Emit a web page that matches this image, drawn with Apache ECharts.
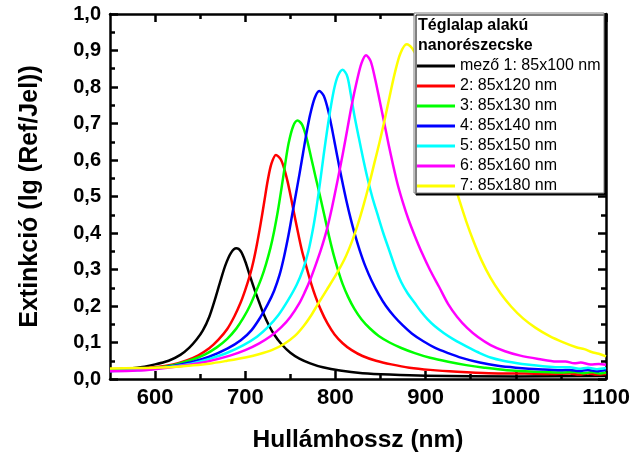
<!DOCTYPE html>
<html>
<head>
<meta charset="utf-8">
<script src="https://cdn.jsdelivr.net/npm/echarts@6.0.0/dist/echarts.min.js"></script>
<style>
  html, body { margin: 0; padding: 0; background: #fff; }
  #chart { width: 633px; height: 460px; }
</style>
</head>
<body>
<div id="chart"></div>
<script>
// Extinction spectra of rectangular nanoparticles: [wavelength (nm), extinction]
const s85x100 = [[550,0.027],[580,0.031],[600,0.040],[615,0.050],[628,0.066],[638,0.086],[646,0.108],[653,0.133],[660,0.170],[666,0.215],[672,0.265],[678,0.312],[684,0.345],[690,0.358],[695,0.350],[700,0.322],[705,0.284],[710,0.247],[715,0.213],[720,0.180],[726,0.148],[732,0.122],[740,0.096],[750,0.072],[760,0.056],[772,0.043],[786,0.032],[805,0.023],[830,0.016],[860,0.012],[900,0.009],[1000,0.007],[1100,0.008]];
const s85x120 = [[550,0.024],[580,0.028],[600,0.032],[620,0.040],[635,0.051],[648,0.065],[660,0.084],[670,0.107],[680,0.137],[688,0.172],[695,0.210],[700,0.244],[705,0.283],[709,0.322],[713,0.370],[717,0.425],[721,0.485],[725,0.545],[729,0.590],[734,0.614],[739,0.603],[743,0.578],[747,0.540],[751,0.493],[755,0.443],[759,0.395],[763,0.350],[768,0.305],[773,0.262],[778,0.225],[784,0.188],[791,0.153],[799,0.122],[808,0.098],[818,0.079],[830,0.063],[845,0.050],[862,0.040],[882,0.031],[905,0.025],[935,0.020],[970,0.016],[1010,0.015],[1040,0.014],[1060,0.015],[1070,0.012],[1080,0.015],[1090,0.012],[1100,0.014]];
const s85x130 = [[550,0.023],[580,0.026],[600,0.030],[620,0.038],[640,0.052],[655,0.067],[668,0.086],[680,0.110],[690,0.138],[698,0.168],[705,0.200],[712,0.240],[718,0.277],[723,0.315],[728,0.360],[732,0.405],[736,0.458],[740,0.520],[744,0.585],[748,0.645],[753,0.692],[758,0.708],[763,0.697],[768,0.660],[773,0.607],[778,0.553],[783,0.500],[788,0.445],[793,0.390],[798,0.340],[803,0.297],[808,0.260],[814,0.225],[821,0.192],[829,0.163],[838,0.139],[848,0.118],[860,0.100],[873,0.085],[888,0.071],[905,0.058],[925,0.047],[945,0.038],[965,0.031],[990,0.024],[1020,0.020],[1050,0.018],[1065,0.019],[1075,0.016],[1085,0.019],[1093,0.015],[1100,0.018]];
const s85x140 = [[550,0.022],[580,0.025],[600,0.029],[620,0.036],[640,0.046],[660,0.061],[680,0.083],[695,0.106],[707,0.134],[717,0.170],[725,0.205],[732,0.242],[738,0.285],[743,0.335],[748,0.395],[752,0.450],[756,0.505],[760,0.560],[764,0.618],[768,0.675],[772,0.725],[777,0.770],[782,0.789],[787,0.776],[792,0.735],[797,0.675],[802,0.610],[807,0.548],[812,0.490],[817,0.438],[822,0.392],[827,0.352],[833,0.310],[840,0.270],[848,0.232],[856,0.200],[865,0.172],[875,0.146],[885,0.124],[897,0.104],[910,0.086],[925,0.071],[940,0.058],[960,0.045],[980,0.036],[1000,0.031],[1030,0.026],[1050,0.024],[1060,0.025],[1070,0.022],[1080,0.025],[1090,0.021],[1100,0.025]];
const s85x150 = [[550,0.022],[580,0.024],[600,0.028],[620,0.034],[640,0.042],[660,0.055],[680,0.072],[698,0.093],[713,0.116],[725,0.142],[737,0.176],[748,0.218],[757,0.258],[764,0.300],[770,0.350],[775,0.410],[779,0.470],[783,0.540],[787,0.615],[791,0.685],[795,0.748],[799,0.800],[803,0.832],[808,0.847],[813,0.830],[817,0.780],[821,0.722],[826,0.660],[831,0.600],[836,0.545],[841,0.497],[847,0.448],[853,0.400],[860,0.350],[867,0.300],[873,0.265],[880,0.235],[888,0.208],[895,0.184],[902,0.164],[910,0.145],[920,0.126],[930,0.110],[940,0.096],[950,0.083],[960,0.071],[972,0.059],[986,0.050],[1000,0.044],[1015,0.039],[1030,0.035],[1046,0.032],[1060,0.032],[1070,0.028],[1080,0.031],[1090,0.027],[1100,0.030]];
const s85x160 = [[550,0.021],[580,0.023],[600,0.027],[620,0.033],[640,0.040],[660,0.049],[683,0.064],[700,0.079],[715,0.097],[728,0.117],[740,0.142],[750,0.170],[760,0.208],[766,0.238],[772,0.272],[778,0.312],[784,0.355],[790,0.405],[796,0.468],[802,0.540],[808,0.615],[813,0.682],[818,0.750],[824,0.819],[829,0.866],[834,0.887],[839,0.871],[844,0.822],[849,0.763],[854,0.703],[859,0.642],[864,0.585],[869,0.533],[875,0.482],[881,0.437],[888,0.392],[896,0.345],[905,0.298],[915,0.252],[925,0.205],[935,0.170],[946,0.140],[958,0.115],[972,0.093],[988,0.076],[1005,0.064],[1025,0.055],[1045,0.048],[1055,0.048],[1065,0.043],[1072,0.045],[1083,0.040],[1092,0.041],[1100,0.039]];
const s85x180 = [[550,0.029],[580,0.030],[600,0.031],[620,0.033],[640,0.037],[660,0.042],[680,0.050],[700,0.059],[715,0.068],[730,0.080],[743,0.096],[755,0.118],[765,0.146],[773,0.174],[780,0.203],[790,0.243],[800,0.283],[810,0.328],[818,0.375],[825,0.425],[831,0.475],[837,0.530],[843,0.590],[849,0.650],[855,0.715],[861,0.785],[866,0.840],[872,0.892],[879,0.917],[885,0.906],[891,0.878],[897,0.835],[903,0.785],[910,0.720],[917,0.655],[924,0.595],[931,0.540],[938,0.485],[945,0.432],[953,0.378],[962,0.325],[972,0.277],[983,0.235],[995,0.198],[1008,0.166],[1022,0.140],[1037,0.118],[1052,0.101],[1067,0.087],[1076,0.082],[1084,0.074],[1092,0.069],[1100,0.062]];

const seriesNames = ['mező 1: 85x100 nm', '2: 85x120 nm', '3: 85x130 nm', '4: 85x140 nm', '5: 85x150 nm', '6: 85x160 nm', '7: 85x180 nm'];
const seriesData = [s85x100, s85x120, s85x130, s85x140, s85x150, s85x160, s85x180];
const seriesColors = ['#000000', '#ff0000', '#00ff00', '#0000ff', '#00ffff', '#ff00ff', '#ffff00'];

// Axis ticks
const xMajorTicks = [600, 700, 800, 900, 1000, 1100];
const xMinorTicks = [650, 750, 850, 950, 1050];
const legendTitle = ['Téglalap alakú', 'nanorészecske'];

const FONT = '"Liberation Sans", Arial, sans-serif';
const AXIS_W = 2.5;

const chart = echarts.init(document.getElementById('chart'), null, { renderer: 'canvas' });

function xAxisDef(position, ticks, len, withLabels, showLine) {
  return {
    type: 'value', position: position, min: 550, max: 1100,
    axisLine: { show: showLine, onZero: false, lineStyle: { color: '#000', width: AXIS_W } },
    axisTick: { show: true, inside: true, length: len, customValues: ticks, lineStyle: { color: '#000', width: AXIS_W } },
    axisLabel: withLabels ? {
      show: true, customValues: ticks, margin: 8,
      fontFamily: FONT, fontWeight: 'bold', fontSize: 22, color: '#000',
      formatter: v => String(v)
    } : { show: false },
    splitLine: { show: false }
  };
}

const xAxes = [
  Object.assign(xAxisDef('bottom', xMajorTicks, 8, true, true), {
    name: 'Hullámhossz (nm)', nameLocation: 'middle', nameGap: 49,
    nameTextStyle: { fontFamily: FONT, fontWeight: 'bold', fontSize: 24.5, color: '#000' }
  }),
  xAxisDef('bottom', xMinorTicks, 5, false, false),
  xAxisDef('top', xMajorTicks, 8, false, true),
  xAxisDef('top', xMinorTicks, 5, false, false)
];

function yAxisDef(position, withLabels) {
  return {
    type: 'value', position: position, min: 0, max: 1, interval: 0.1,
    axisLine: { show: true, onZero: false, lineStyle: { color: '#000', width: AXIS_W } },
    axisTick: { show: true, inside: true, length: 8, lineStyle: { color: '#000', width: AXIS_W } },
    minorTick: { show: true, splitNumber: 2, length: 5, lineStyle: { color: '#000', width: AXIS_W } },
    axisLabel: withLabels ? {
      show: true, margin: 9, fontFamily: FONT, fontWeight: 'bold', fontSize: 20, color: '#000',
      formatter: v => v.toFixed(1).replace('.', ',')
    } : { show: false },
    splitLine: { show: false }
  };
}

const yAxes = [
  Object.assign(yAxisDef('left', true), {
    name: 'Extinkció (lg (Ref/Jel))', nameLocation: 'middle', nameGap: 67,
    nameTextStyle: { fontFamily: FONT, fontWeight: 'bold', fontSize: 25, color: '#000' }
  }),
  yAxisDef('right', false)
];

const series = seriesData.map((d, i) => ({
  name: seriesNames[i],
  type: 'line',
  xAxisIndex: 0, yAxisIndex: 0,
  data: d,
  smooth: 0.3,
  showSymbol: false,
  symbol: 'none',
  color: seriesColors[i],
  lineStyle: { color: seriesColors[i], width: 2.5, join: 'round' },
  z: 2 + i * 0.01
}));

chart.setOption({
  animation: false,
  backgroundColor: '#fff',
  grid: { left: 110, right: 27, top: 14, bottom: 81, containLabel: false },
  xAxis: xAxes,
  yAxis: yAxes,
  graphic: [
    {
      type: 'rect', z: 50,
      shape: { x: 414, y: 13, width: 190, height: 180 },
      style: { fill: '#fff', stroke: '#808080', lineWidth: 1, shadowColor: '#000', shadowOffsetX: 2, shadowOffsetY: 2, shadowBlur: 0 }
    },
    {
      type: 'text', z: 60, left: 418, top: 16,
      style: { text: legendTitle.join('\n'), font: 'bold 16px ' + FONT, lineHeight: 20, fill: '#000' }
    }
  ],
  legend: {
    z: 60,
    orient: 'vertical',
    left: 417, top: 56,
    padding: 0,
    itemGap: 0,
    itemWidth: 38, itemHeight: 3,
    icon: 'rect',
    selectedMode: false,
    data: seriesNames,
    textStyle: { fontFamily: FONT, fontSize: 16, lineHeight: 20, color: '#000' }
  },
  series: series
});
</script>
</body>
</html>
